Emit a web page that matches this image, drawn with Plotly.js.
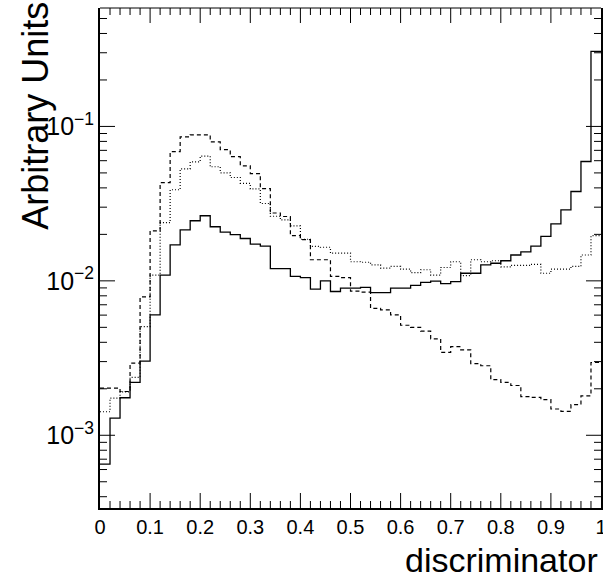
<!DOCTYPE html>
<html>
<head>
<meta charset="utf-8">
<script src="https://cdn.plot.ly/plotly-3.0.1.min.js"></script>
<style>html,body{margin:0;padding:0;background:#fff;}#chart{width:603px;height:577px;}</style>
</head>
<body>
<div id="chart"></div>
<script>
// 50 bins of width 0.02 on [0,1]
const binLowEdges = [0.00,0.02,0.04,0.06,0.08,0.10,0.12,0.14,0.16,0.18,
  0.20,0.22,0.24,0.26,0.28,0.30,0.32,0.34,0.36,0.38,
  0.40,0.42,0.44,0.46,0.48,0.50,0.52,0.54,0.56,0.58,
  0.60,0.62,0.64,0.66,0.68,0.70,0.72,0.74,0.76,0.78,
  0.80,0.82,0.84,0.86,0.88,0.90,0.92,0.94,0.96,0.98];
const lastEdge = 1.0;

const solidSeries = [0.00065,0.00129,0.00175,0.00220,0.00302,0.00602,0.0109,0.0171,0.0214,0.0245,
  0.0264,0.0224,0.0207,0.0199,0.0188,0.0173,0.0168,0.0120,0.0120,0.0107,
  0.0105,0.00883,0.0100,0.00853,0.00897,0.00897,0.00908,0.00840,0.00840,0.00897,
  0.00897,0.00935,0.00978,0.00995,0.00960,0.0099,0.0112,0.0112,0.0127,0.0130,
  0.0135,0.0147,0.0154,0.0168,0.0194,0.0234,0.0288,0.0379,0.0593,0.306];

const dashedSeries = [0.00202,0.00202,0.00192,0.00293,0.00787,0.0211,0.0432,0.0686,0.0855,0.0883,
  0.0883,0.0795,0.0707,0.0637,0.0556,0.0495,0.0396,0.0275,0.0261,0.0196,
  0.0185,0.0137,0.0137,0.0107,0.0105,0.00857,0.00846,0.00664,0.00649,0.00602,
  0.00516,0.00500,0.00473,0.00421,0.00344,0.00375,0.00357,0.00291,0.00282,0.00229,
  0.00220,0.00210,0.00178,0.00176,0.00170,0.00148,0.00143,0.00158,0.00180,0.00296];

const dottedSeries = [0.00142,0.00174,0.00191,0.00237,0.00506,0.0109,0.0238,0.0389,0.0531,0.0590,
  0.0643,0.0548,0.0501,0.0467,0.0428,0.0394,0.0317,0.0262,0.0248,0.0227,
  0.0186,0.0167,0.0165,0.0151,0.0151,0.0133,0.0132,0.0127,0.0121,0.0124,
  0.0119,0.0113,0.0118,0.0109,0.0122,0.0133,0.0108,0.0137,0.0133,0.0135,
  0.0123,0.0126,0.0126,0.0128,0.0112,0.0119,0.0119,0.0124,0.0147,0.0196];

const xTickVals = [0,0.1,0.2,0.3,0.4,0.5,0.6,0.7,0.8,0.9,1];
const xTickLabels = ['0','0.1','0.2','0.3','0.4','0.5','0.6','0.7','0.8','0.9','1'];
const xMinorTickVals = [0.02,0.04,0.06,0.08,0.12,0.14,0.16,0.18,0.22,0.24,0.26,0.28,
  0.32,0.34,0.36,0.38,0.42,0.44,0.46,0.48,0.52,0.54,0.56,0.58,0.62,0.64,0.66,0.68,
  0.72,0.74,0.76,0.78,0.82,0.84,0.86,0.88,0.92,0.94,0.96,0.98];
const yTickVals = [0.001,0.01,0.1];
const yMinorTickVals = [0.0004,0.0005,0.0006,0.0007,0.0008,0.0009,
  0.002,0.003,0.004,0.005,0.006,0.007,0.008,0.009,
  0.02,0.03,0.04,0.05,0.06,0.07,0.08,0.09,
  0.2,0.3,0.4,0.5];

const edges = binLowEdges.concat([lastEdge]);
function stepY(arr){ return arr.concat([arr[arr.length-1]]); }

const font = 'Liberation Sans, Arial, Helvetica, sans-serif';
const yRange = [-3.471,-0.233];
const W = 603, H = 577, M = {l:100, r:2, t:8, b:69};
const plotW = W - M.l - M.r, plotH = H - M.t - M.b;
const MAJOR = 15, MINOR = 7;

// tick marks (inside, on all four sides), lengths as fractions of the plot area
const tickLine = {color:'#000', width:1};
const shapes = [];
function xTick(v, len){
  const f = len / plotH;
  shapes.push({type:'line', layer:'above', xref:'x', yref:'paper', x0:v, x1:v, y0:0, y1:f, line:tickLine});
  shapes.push({type:'line', layer:'above', xref:'x', yref:'paper', x0:v, x1:v, y0:1, y1:1 - f, line:tickLine});
}
function yFrac(v){ return (Math.log10(v) - yRange[0]) / (yRange[1] - yRange[0]); }
function yTick(v, len){
  const fy = yFrac(v), fx = len / plotW;
  shapes.push({type:'line', layer:'above', xref:'paper', yref:'paper', x0:0, x1:fx, y0:fy, y1:fy, line:tickLine});
  shapes.push({type:'line', layer:'above', xref:'paper', yref:'paper', x0:1, x1:1 - fx, y0:fy, y1:fy, line:tickLine});
}
xTickVals.slice(1, -1).forEach(v => xTick(v, MAJOR));
xMinorTickVals.forEach(v => xTick(v, MINOR));
yTickVals.forEach(v => yTick(v, MAJOR));
yMinorTickVals.forEach(v => yTick(v, MINOR));
// thin top frame line
shapes.push({type:'line', layer:'above', xref:'paper', yref:'paper', x0:0, x1:1, y0:1, y1:1, line:{color:'#000', width:1}});

const traces = [
  {x: edges, y: stepY(dottedSeries), mode:'lines', line:{shape:'hv', color:'#000', width:1.2, dash:'1px,2px'}, hoverinfo:'skip'},
  {x: edges, y: stepY(dashedSeries), mode:'lines', line:{shape:'hv', color:'#000', width:1.2, dash:'4px,3px'}, hoverinfo:'skip'},
  {x: edges, y: stepY(solidSeries), mode:'lines', line:{shape:'hv', color:'#000', width:1.3}, hoverinfo:'skip'}
];

const layout = {
  width: W, height: H,
  margin: {l:M.l, r:M.r, t:M.t, b:M.b, pad:0},
  paper_bgcolor:'#fff', plot_bgcolor:'#fff',
  showlegend:false,
  font:{family:font, color:'#000', size:20},
  xaxis:{
    range:[0,1], tickmode:'array', tickvals:xTickVals, ticktext:xTickLabels, ticks:'',
    ticklabeloverflow:'allow', showline:true, linecolor:'#000', linewidth:2, mirror:false,
    showgrid:false, zeroline:false, tickfont:{family:font, size:20, color:'#000'}
  },
  yaxis:{
    type:'log', range:yRange, dtick:1, exponentformat:'power', ticks:'',
    showline:true, linecolor:'#000', linewidth:2, mirror:true,
    showgrid:false, zeroline:false, tickfont:{family:font, size:20, color:'#000'}
  },
  shapes: shapes,
  annotations:[
    {text:'discriminator', xref:'paper', yref:'paper', x:0.998, y:-0.104, xanchor:'right', yanchor:'middle',
     showarrow:false, font:{family:font, size:34, color:'#000'}},
    {text:'Arbitrary Units', xref:'paper', yref:'paper', x:-0.13, y:1.016, xanchor:'center', yanchor:'top',
     textangle:-90, showarrow:false, font:{family:font, size:36, color:'#000'}}
  ]
};

Plotly.newPlot('chart', traces, layout, {staticPlot:true, displayModeBar:false});
</script>
</body>
</html>
